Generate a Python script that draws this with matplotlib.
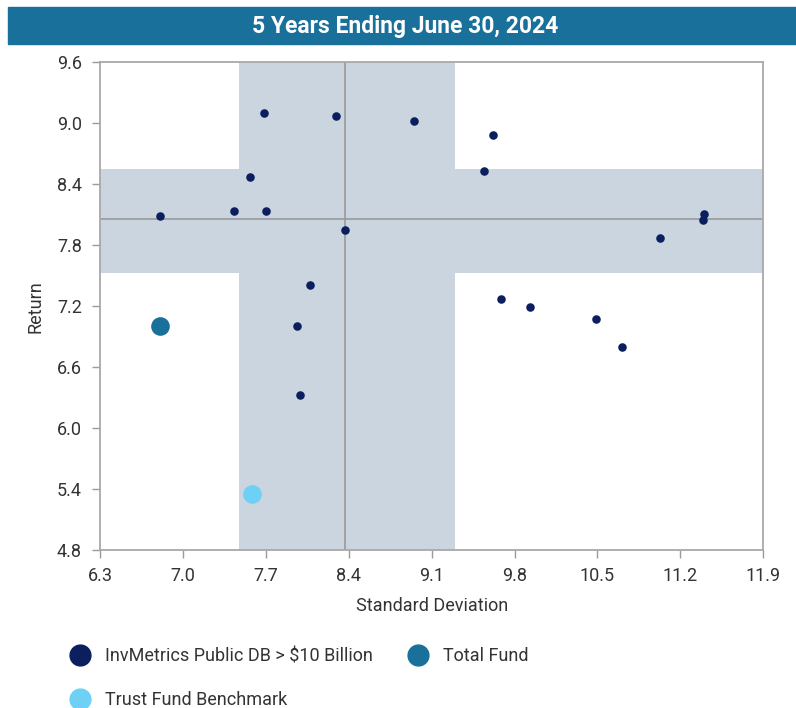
import matplotlib
matplotlib.use("Agg")
import matplotlib.pyplot as plt
from matplotlib.lines import Line2D
from matplotlib.patches import Rectangle
import numpy as np

plt.rcParams['font.family'] = ['Roboto', 'DejaVu Sans']

title = "5 Years Ending June 30, 2024"

# Peer universe (InvMetrics Public DB > $10 Billion)
peer_sd = [7.685, 8.292, 8.948, 7.566, 6.809, 7.434, 7.699, 8.366, 8.073,
           9.615, 9.542, 11.40, 11.388, 11.025, 9.688, 9.933, 10.487, 10.704,
           7.96, 7.986]
peer_ret = [9.10, 9.07, 9.02, 8.47, 8.09, 8.14, 8.14, 7.95, 7.41,
            8.88, 8.53, 8.11, 8.05, 7.87, 7.27, 7.19, 7.07, 6.80,
            7.00, 6.33]

total_fund = (6.81, 7.00)
benchmark = (7.58, 5.35)

# Peer median and band
median_sd = 8.37
median_ret = 8.06
band_sd = (7.47, 9.30)
band_ret = (7.53, 8.55)

x_ticks = [6.3, 7.0, 7.7, 8.4, 9.1, 9.8, 10.5, 11.2, 11.9]
y_ticks = [4.8, 5.4, 6.0, 6.6, 7.2, 7.8, 8.4, 9.0, 9.6]

navy = "#0b1f5e"
teal = "#18709b"
light = "#6fd0f6"
band = "#cbd5df"
grey = "#9a9a9a"
txt = "#333333"
fs = 13

fig = plt.figure(figsize=(7.96, 7.08), dpi=100)

# Title bar
fig.patches.append(Rectangle((8/796, 1-44/708), (796-8)/796, 37/708,
                             transform=fig.transFigure, color=teal, zorder=0))
fig.text(405/796, 1-26/708, title, ha='center', va='center', color='white',
         fontsize=16.5, fontweight='bold')

ax = fig.add_axes([100/796, 1-550/708, 663.3/796, 487.7/708])
ax.set_xlim(x_ticks[0], x_ticks[-1])
ax.set_ylim(y_ticks[0], y_ticks[-1])

# Bands
ax.axvspan(band_sd[0], band_sd[1], color=band, lw=0, zorder=0)
ax.axhspan(band_ret[0], band_ret[1], color=band, lw=0, zorder=0)
ax.axvline(median_sd, color=grey, lw=1.2, zorder=1)
ax.axhline(median_ret, color=grey, lw=1.2, zorder=1)

ax.scatter(peer_sd, peer_ret, s=38, color=navy, zorder=3, linewidths=0)
ax.scatter([total_fund[0]], [total_fund[1]], s=180, color=teal, zorder=4, linewidths=0)
ax.scatter([benchmark[0]], [benchmark[1]], s=180, color=light, zorder=4, linewidths=0)

ax.set_xticks(x_ticks)
ax.set_yticks(y_ticks)
ax.set_xticklabels([f"{v:.1f}" for v in x_ticks])
ax.set_yticklabels([f"{v:.1f}" for v in y_ticks])
ax.tick_params(axis='both', colors=grey, labelcolor=txt, labelsize=fs, length=6, width=1)
ax.tick_params(axis='x', pad=6)
ax.tick_params(axis='y', pad=7)
for s in ax.spines.values():
    s.set_color("#a8a8a8")
    s.set_linewidth(1.3)

ax.set_xlabel("Standard Deviation", fontsize=fs, color=txt, labelpad=9)
ax.set_ylabel("Return", fontsize=fs, color=txt, labelpad=9)

handles = [
    Line2D([], [], marker='o', ls='', color=navy, markersize=15, label="InvMetrics Public DB > $10 Billion"),
    Line2D([], [], marker='o', ls='', color=light, markersize=15, label="Trust Fund Benchmark"),
    Line2D([], [], marker='o', ls='', color=teal, markersize=15, label="Total Fund"),
]
fig.legend(handles=handles, loc='upper left', bbox_to_anchor=(53/796, 1-631/708),
           ncol=2, frameon=False, fontsize=fs, handlelength=1.2, handletextpad=0.78,
           columnspacing=1.9, labelspacing=1.45, labelcolor=txt)

fig.savefig("out.png", dpi=100)
